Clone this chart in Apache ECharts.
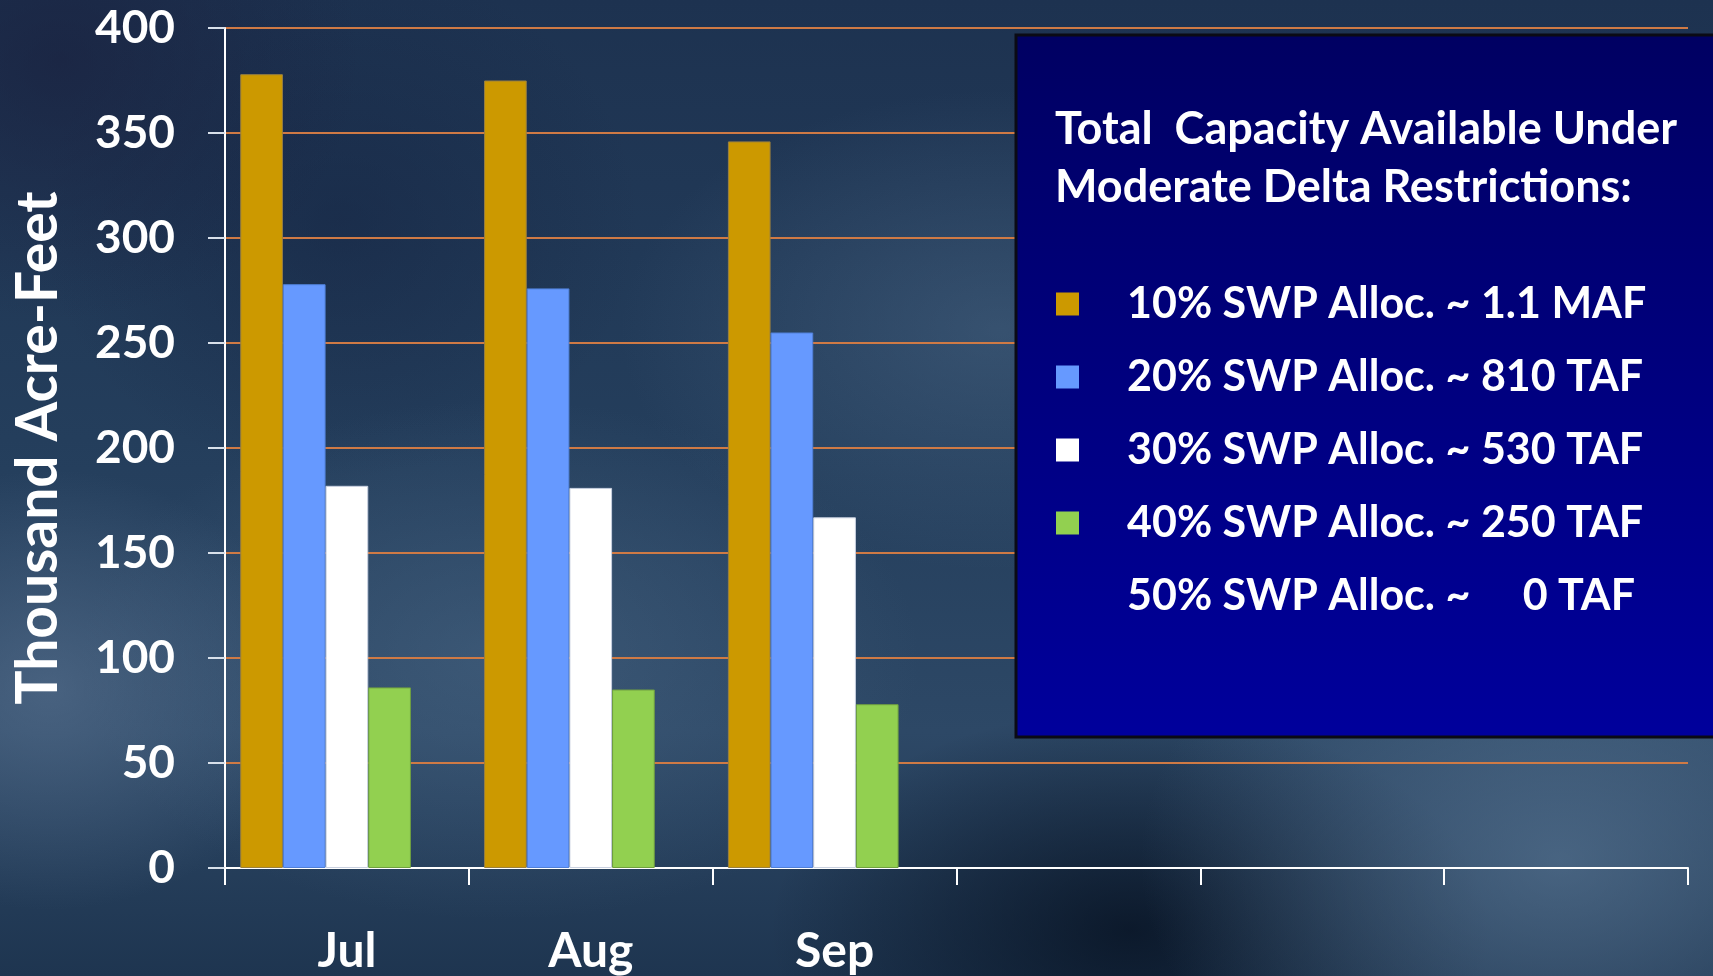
<!DOCTYPE html>
<html>
<head>
<meta charset="utf-8">
<script src="https://cdn.jsdelivr.net/npm/echarts@6/dist/echarts.min.js"></script>
<style>
html,body{margin:0;padding:0;width:1713px;height:976px;overflow:hidden;}
body{
  background:
    radial-gradient(ellipse 260px 220px at 50px 690px, rgba(95,120,150,0.55), rgba(95,120,150,0) 100%),
    radial-gradient(ellipse 420px 260px at 500px 660px, rgba(80,110,140,0.45), rgba(80,110,140,0) 100%),
    radial-gradient(ellipse 380px 240px at 1000px 330px, rgba(85,115,145,0.4), rgba(85,115,145,0) 100%),
    radial-gradient(ellipse 420px 300px at 1560px 860px, rgba(95,125,155,0.6), rgba(95,125,155,0) 100%),
    radial-gradient(ellipse 360px 220px at 1130px 930px, rgba(5,15,30,0.75), rgba(5,15,30,0) 100%),
    radial-gradient(ellipse 300px 260px at 60px 60px, rgba(25,30,60,0.6), rgba(25,30,60,0) 100%),
    radial-gradient(ellipse 300px 260px at 340px 220px, rgba(20,35,65,0.5), rgba(20,35,65,0) 100%),
    linear-gradient(180deg, #1d3250 0%, #243e5c 45%, #2d4866 75%, #1e3550 100%);
}
#c{width:1713px;height:976px;}
</style>
</head>
<body>
<div id="c"></div>
<script>
const categories = ['Jul', 'Aug', 'Sep', '', '', ''];
const alloc10 = [378, 375, 346];
const alloc20 = [278, 276, 255];
const alloc30 = [182, 181, 167];
const alloc40 = [86, 85, 78];
const alloc50 = [0, 0, 0];
const seriesNames = [
  '10% SWP Alloc. ~ 1.1 MAF',
  '20% SWP Alloc. ~ 810 TAF',
  '30% SWP Alloc. ~ 530 TAF',
  '40% SWP Alloc. ~ 250 TAF',
  '50% SWP Alloc. ~     0 TAF'
];
const seriesColors = ['#CC9900', '#6699FF', '#FFFFFF', '#92D050', 'rgba(0,0,0,0)'];
const borderColors = ['#9a8040', '#5080d8', '#c8d0e0', '#70a040', 'rgba(0,0,0,0)'];
const yTicks = [0, 50, 100, 150, 200, 250, 300, 350, 400];
const boxTitle = 'Total  Capacity Available Under\nModerate Delta Restrictions:';
const yName = 'Thousand Acre-Feet';

const FONT = 'Lato';
const values = [alloc10, alloc20, alloc30, alloc40, alloc50];

const chart = echarts.init(document.getElementById('c'), null, {renderer: 'canvas'});
chart.setOption({
  backgroundColor: 'transparent',
  animation: false,
  grid: {left: 225, top: 28, right: 25, bottom: 108, containLabel: false},
  xAxis: {
    type: 'category',
    data: categories,
    axisLine: {show: true, lineStyle: {color: '#FFFFFF', width: 2}},
    axisTick: {show: true, length: 17, alignWithLabel: false, lineStyle: {color: '#FFFFFF', width: 2}},
    axisLabel: {color: '#FFFFFF', fontFamily: FONT, fontWeight: 'bold', fontSize: 48, margin: 60, interval: 0},
    splitLine: {show: false}
  },
  yAxis: {
    type: 'value',
    min: yTicks[0],
    max: yTicks[yTicks.length - 1],
    interval: 50,
    name: yName,
    nameLocation: 'middle',
    nameRotate: 90,
    nameGap: 158,
    nameTextStyle: {color: '#FFFFFF', fontFamily: FONT, fontWeight: 'bold', fontSize: 57},
    axisLine: {show: true, lineStyle: {color: '#FFFFFF', width: 2}},
    axisTick: {show: true, length: 17, lineStyle: {color: '#D8E0EA', width: 2}},
    axisLabel: {color: '#FFFFFF', fontFamily: FONT, fontWeight: 'bold', fontSize: 46, margin: 50},
    splitLine: {show: true, lineStyle: {color: '#CF7A45', width: 2}}
  },
  legend: {
    orient: 'vertical',
    left: 1051,
    top: 274,
    itemWidth: 23,
    itemHeight: 23,
    itemGap: 23,
    icon: 'rect',
    z: 10,
    selectedMode: false,
    data: seriesNames.map((n, i) => ({name: n, itemStyle: {color: seriesColors[i], borderWidth: 0}})),
    textStyle: {color: '#FFFFFF', fontFamily: FONT, fontWeight: 'bold', fontSize: 43, padding: [0, 0, 0, 43], lineHeight: 50}
  },
  title: {
    text: boxTitle,
    left: 1050,
    top: 95,
    z: 10,
    textStyle: {color: '#FFFFFF', fontFamily: FONT, fontWeight: 'bold', fontSize: 45, lineHeight: 58}
  },
  graphic: [{
    type: 'rect',
    z: 5,
    shape: {x: 1016, y: 35, width: 720, height: 702},
    style: {
      fill: new echarts.graphic.LinearGradient(0, 0, 0, 1, [
        {offset: 0, color: '#000062'},
        {offset: 1, color: '#00009C'}
      ]),
      stroke: '#0a0a14',
      lineWidth: 3
    }
  }],
  series: values.map((v, i) => ({
    type: 'bar',
    name: seriesNames[i],
    data: v,
    barGap: '0%',
    barCategoryGap: '12.5%',
    itemStyle: {color: seriesColors[i], borderColor: borderColors[i], borderWidth: 1}
  }))
});
</script>
</body>
</html>
